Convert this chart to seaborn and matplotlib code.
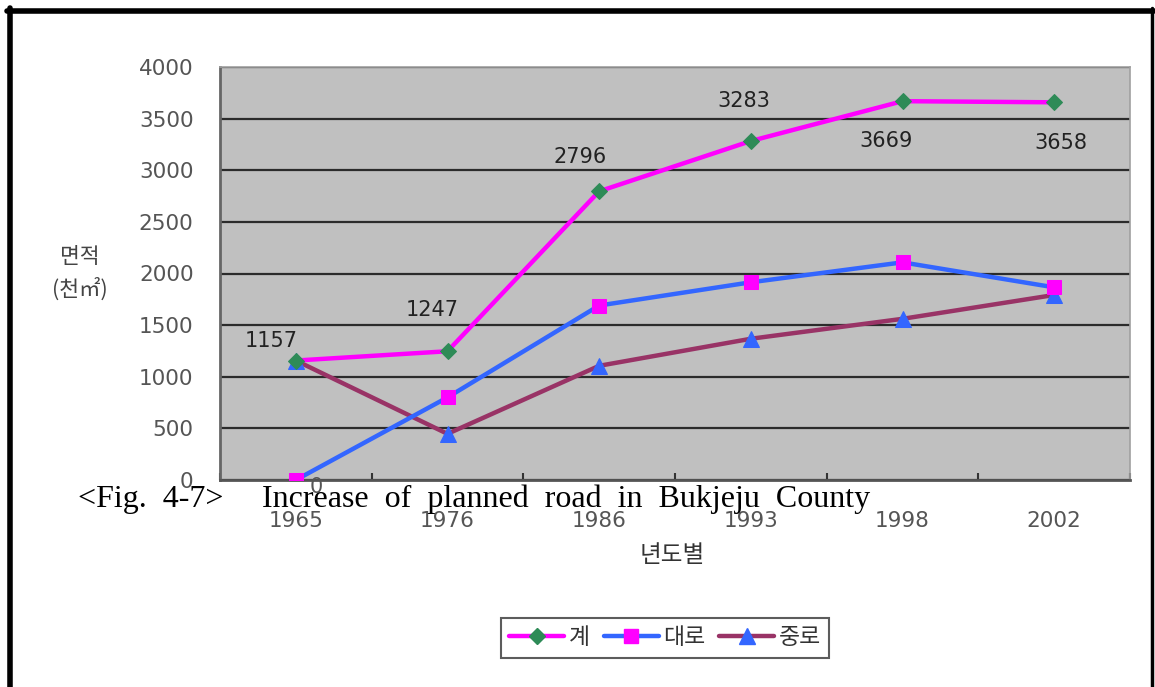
import numpy as np
import pandas as pd
import matplotlib
matplotlib.use("Agg")
import matplotlib.pyplot as plt
from matplotlib.lines import Line2D
import seaborn as sns

# ---- data -------------------------------------------------------------
years = ["1965", "1976", "1986", "1993", "1998", "2002"]
total = [1157, 1247, 2796, 3283, 3669, 3658]      # 계
major_road = [0, 800, 1690, 1915, 2108, 1866]     # 대로
medium_road = [1157, 447, 1106, 1368, 1561, 1792] # 중로
series_names = ["계", "대로", "중로"]
y_ticks = [0, 500, 1000, 1500, 2000, 2500, 3000, 3500, 4000]

# ---- style ------------------------------------------------------------
sns.set_theme(style="white")
plt.rcParams["font.family"] = ["Noto Sans CJK KR", "DejaVu Sans"]

W, H = 1155, 687
fig = plt.figure(figsize=(W / 100, H / 100), dpi=100)
fig.patch.set_facecolor("white")

# plot area in pixel coordinates
left_px, right_px, top_px, bottom_px = 220, 1130, 67, 480
ax = fig.add_axes([left_px / W, 1 - bottom_px / H,
                   (right_px - left_px) / W, (bottom_px - top_px) / H])
ax.set_facecolor("#c0c0c0")

x = np.arange(len(years))
df = pd.DataFrame({"x": x, "계": total, "대로": major_road, "중로": medium_road})

styles = {
    "계":  dict(color="#ff00ff", marker="D", markersize=8,
               markerfacecolor="#2e8b57", markeredgecolor="#2e8b57"),
    "대로": dict(color="#3366ff", marker="s", markersize=10,
               markerfacecolor="#ff00ff", markeredgecolor="#ff00ff"),
    "중로": dict(color="#993366", marker="^", markersize=11,
               markerfacecolor="#3366ff", markeredgecolor="#3366ff"),
}

for name in ["중로", "대로", "계"]:
    sns.lineplot(data=df, x="x", y=name, ax=ax, linewidth=3.2,
                 label=name, legend=False, zorder=3, **styles[name])

# axes limits and grid
ax.set_xlim(-0.5, len(years) - 0.5)
ax.set_ylim(0, 4000)
ax.set_yticks(y_ticks)
ax.set_yticklabels([str(v) for v in y_ticks])
ax.yaxis.grid(True, color="#2b2b2b", linewidth=1.6, zorder=1)
ax.xaxis.grid(False)
ax.set_axisbelow(True)

ax.set_xticks(x)
ax.set_xticklabels(years)
ax.set_xticks(np.arange(len(years) + 1) - 0.5, minor=True)
ax.tick_params(axis="x", which="major", length=0, pad=22,
               labelsize=15.5, labelcolor="#555555")
ax.tick_params(axis="x", which="minor", length=5, width=1.5,
               direction="in", color="#333333", bottom=True)
ax.tick_params(axis="y", which="major", length=0, pad=19,
               labelsize=15.5, labelcolor="#555555")
for lab in ax.get_xticklabels() + ax.get_yticklabels():
    lab.set_family(["DejaVu Sans"])

for side in ["left", "bottom"]:
    ax.spines[side].set_color("#555555")
    ax.spines[side].set_linewidth(2.0)
for side in ["top", "right"]:
    ax.spines[side].set_color("#a0a0a0")
    ax.spines[side].set_linewidth(1.2)
ax.spines["left"].set_color("#666666")

ax.set_xlabel("")
ax.set_ylabel("")

# value labels for the total series and the zero of 대로
label_offsets = [(-18, 14), (-11, 30), (-14, 25), (-5, 29), (-12, -29), (5, -29)]
for xi, v, (dx, dy) in zip(x, total, label_offsets):
    ax.annotate(str(v), (xi, v), xytext=(dx, dy), textcoords="offset points",
                ha="center", va="center", fontsize=15, color="#222222",
                family=["DejaVu Sans"], zorder=5, annotation_clip=False)
ax.annotate(str(major_road[0]), (x[0], major_road[0]), xytext=(15, -5),
            textcoords="offset points", ha="center", va="center",
            fontsize=15, color="#555555", family=["DejaVu Sans"],
            annotation_clip=False)

# axis titles
fig.text(80 / W, 1 - 257 / H, "면적", ha="center", va="center",
         fontsize=15.5, color="#444444")
fig.text(80 / W, 1 - 289 / H, "(천㎡)", ha="center", va="center",
         fontsize=15.5, color="#444444")
fig.text(672 / W, 1 - 556 / H, "년도별", ha="center", va="center",
         fontsize=17, color="#333333", fontweight="medium")

# figure caption
fig.text(78 / W, 1 - 499 / H, "<Fig.  4-7>", ha="left", va="center",
         fontsize=23, color="black", family=["Liberation Serif"], zorder=10)
fig.text(262 / W, 1 - 499 / H,
         "Increase  of  planned  road  in  Bukjeju  County",
         ha="left", va="center", fontsize=23, color="black",
         family=["Liberation Serif"], zorder=10)

# legend
handles = [Line2D([0], [0], linewidth=3.2, **styles[n]) for n in series_names]
leg = fig.legend(handles, series_names, loc="center",
                 bbox_to_anchor=(665 / W, 1 - 638 / H), ncol=3,
                 frameon=True, fancybox=False, fontsize=16.5,
                 handlelength=2.4, handletextpad=0.2, columnspacing=0.6,
                 borderpad=0.35)
leg.get_frame().set_edgecolor("#333333")
leg.get_frame().set_linewidth(1.5)
for t in leg.get_texts():
    t.set_color("#333333")

# outer frame
def frame_line(xs, ys, lw):
    fig.add_artist(Line2D([v / W for v in xs], [1 - v / H for v in ys],
                          color="black", linewidth=lw,
                          transform=fig.transFigure))

frame_line([9.5, 9.5], [8, H], 4)
frame_line([7, 1154], [10.5, 10.5], 4)
frame_line([1151.5, 1151.5], [8, H], 2.5)

fig.savefig("out.png", dpi=100)
